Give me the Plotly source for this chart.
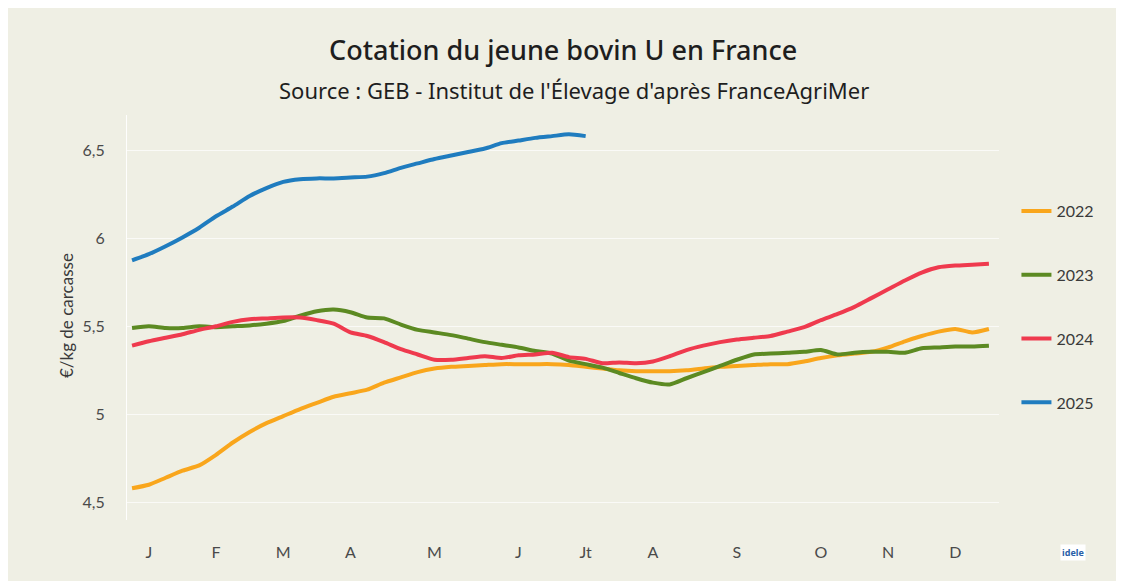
import plotly.graph_objects as go

weeks = list(range(1, 53))

y2022 = [4.58, 4.60, 4.64, 4.68, 4.71, 4.77, 4.84, 4.90, 4.95, 4.99, 5.03, 5.065, 5.10, 5.12,
         5.14, 5.18, 5.21, 5.24, 5.26, 5.27, 5.275, 5.28, 5.285, 5.285, 5.285, 5.285, 5.28,
         5.27, 5.26, 5.25, 5.245, 5.245, 5.245, 5.25, 5.26, 5.27, 5.275, 5.28, 5.285, 5.285,
         5.30, 5.32, 5.335, 5.345, 5.355, 5.38, 5.415, 5.445, 5.47, 5.485, 5.465, 5.485]
y2023 = [5.49, 5.50, 5.49, 5.49, 5.50, 5.495, 5.50, 5.505, 5.515, 5.53, 5.56, 5.585, 5.595,
         5.58, 5.55, 5.545, 5.51, 5.48, 5.465, 5.45, 5.43, 5.41, 5.395, 5.38, 5.36, 5.345,
         5.305, 5.285, 5.265, 5.235, 5.205, 5.18, 5.17, 5.205, 5.24, 5.275, 5.31, 5.34, 5.345,
         5.35, 5.355, 5.365, 5.34, 5.35, 5.355, 5.355, 5.35, 5.375, 5.38, 5.385, 5.385, 5.39]
y2024 = [5.39, 5.415, 5.435, 5.455, 5.48, 5.50, 5.525, 5.54, 5.545, 5.55, 5.55, 5.535, 5.515,
         5.465, 5.445, 5.41, 5.37, 5.34, 5.31, 5.31, 5.32, 5.33, 5.32, 5.335, 5.34, 5.35,
         5.325, 5.315, 5.29, 5.295, 5.29, 5.30, 5.33, 5.365, 5.39, 5.41, 5.425, 5.435, 5.445,
         5.47, 5.495, 5.535, 5.57, 5.61, 5.66, 5.71, 5.76, 5.805, 5.835, 5.845, 5.85, 5.855]
y2025 = [5.875, 5.91, 5.955, 6.005, 6.06, 6.125, 6.18, 6.24, 6.285, 6.32, 6.335, 6.34, 6.34,
         6.345, 6.35, 6.37, 6.40, 6.425, 6.45, 6.47, 6.49, 6.51, 6.54, 6.555, 6.57, 6.58,
         6.59, 6.58]

month_ticks = [2, 6, 10, 14, 19, 24, 28, 32, 37, 42, 46, 50]
month_labels = ["J", "F", "M", "A", "M", "J", "Jt", "A", "S", "O", "N", "D"]
y_ticks = [4.5, 5, 5.5, 6, 6.5]
y_labels = ["4,5", "5", "5,5", "6", "6,5"]

series = [
    ("2022", y2022, "#f9a61c"),
    ("2023", y2023, "#5c8a22"),
    ("2024", y2024, "#ef3a4e"),
    ("2025", y2025, "#1f7cbf"),
]

BG = "#efefe4"
fig = go.Figure()
for name, vals, col in series:
    fig.add_trace(go.Scatter(
        x=weeks[:len(vals)], y=vals, name=name, mode="lines", legendgroup=name,
        line=dict(color=col, width=4, shape="spline", smoothing=0.6),
    ))

fig.update_layout(
    width=1124, height=581,
    paper_bgcolor=BG, plot_bgcolor=BG,
    margin=dict(l=119, r=133, t=107, b=69),
    showlegend=True,
    legend=dict(x=1.02, xanchor="left", y=0.805, yanchor="top",
                font=dict(family="Lato, Noto Sans", size=16, color="#3a3a3a"),
                tracegroupgap=40, bgcolor="rgba(0,0,0,0)"),
    xaxis=dict(range=[0.7, 52.6], tickvals=month_ticks, ticktext=month_labels,
               showgrid=False, zeroline=False, showline=False,
               ticks="outside", ticklen=18, tickcolor="rgba(0,0,0,0)",
               tickfont=dict(family="Lato, Noto Sans", size=16, color="#4a4a4a")),
    yaxis=dict(range=[4.4, 6.7], tickvals=y_ticks, ticktext=y_labels,
               showgrid=True, gridcolor="rgba(255,255,255,0.7)", gridwidth=1,
               zeroline=False, showline=True, linecolor="rgba(255,255,255,0.9)",
               ticks="outside", ticklen=18, tickcolor="rgba(0,0,0,0)",
               tickfont=dict(family="Lato, Noto Sans", size=16, color="#4a4a4a")),
    annotations=[
        dict(text="Cotation du jeune bovin U en France", x=0.5005, y=1.1607,
             xref="paper", yref="paper", showarrow=False, xanchor="center", yanchor="middle",
             font=dict(family="Noto Sans", size=27, color="#1e1e1e", weight=500)),
        dict(text="Source : GEB - Institut de l'Élevage d'après FranceAgriMer", x=0.513, y=1.0618,
             xref="paper", yref="paper", showarrow=False, xanchor="center", yanchor="middle",
             font=dict(family="Noto Sans", size=22, color="#1e1e1e")),
        dict(text="€/kg de carcasse", x=-0.07, y=0.506, xref="paper", yref="paper",
             showarrow=False, textangle=-90, xanchor="center", yanchor="middle",
             font=dict(family="Lato, Noto Sans", size=17, color="#3a3a3a")),
        dict(text="<b>idele</b>", x=1.085, y=-0.08, xref="paper", yref="paper",
             showarrow=False, xanchor="center", yanchor="middle", bgcolor="white",
             font=dict(family="Noto Sans", size=9, color="#2a5fa8")),
    ],
)

fig.write_html("out.html")
